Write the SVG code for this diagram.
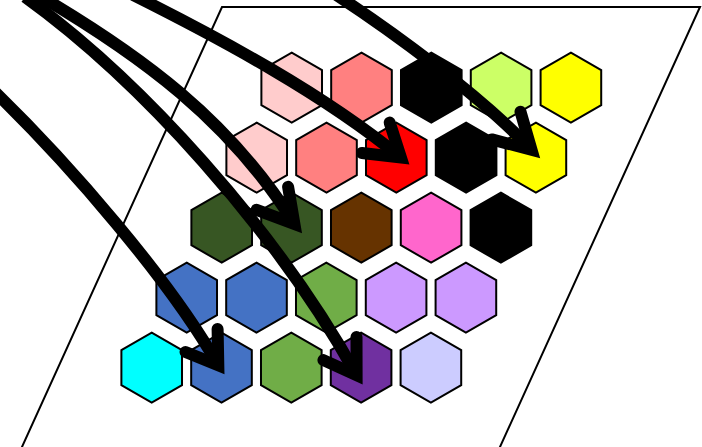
<svg xmlns="http://www.w3.org/2000/svg" xmlns:xlink="http://www.w3.org/1999/xlink" width="702" height="447" viewBox="0 0 702 447">
<style>
.hex{stroke:#000;stroke-width:2;stroke-linejoin:miter}
.frame{fill:#fff;stroke:#000;stroke-width:2}
.shaft{fill:none;stroke:#000;stroke-width:12;stroke-linecap:butt}
.head{fill:none;stroke:#000;stroke-width:12;stroke-linecap:round;stroke-linejoin:miter;stroke-miterlimit:10}
</style>
<defs>
<polygon id="hex" points="0,-35 30.31,-17.5 30.31,17.5 0,35 -30.31,17.5 -30.31,-17.5"/>
</defs>
<rect width="702" height="447" fill="#fff"/>
<g id="plane"><polygon class="frame" points="222,7 700,7 498.6,450 20.6,450"/></g>
<g id="hexes">
<g id="h00"><use href="#hex" class="hex" x="291.7" y="87.7" fill="#FFCCCC"/></g>
<g id="h01"><use href="#hex" class="hex" x="361.5" y="87.7" fill="#FF8080"/></g>
<g id="h02"><use href="#hex" class="hex" x="431.3" y="87.7" fill="#000000"/></g>
<g id="h03"><use href="#hex" class="hex" x="501.1" y="87.7" fill="#CCFF66"/></g>
<g id="h04"><use href="#hex" class="hex" x="570.9" y="87.7" fill="#FFFF00"/></g>
<g id="h10"><use href="#hex" class="hex" x="256.7" y="157.7" fill="#FFCCCC"/></g>
<g id="h11"><use href="#hex" class="hex" x="326.5" y="157.7" fill="#FF8080"/></g>
<g id="h12"><use href="#hex" class="hex" x="396.3" y="157.7" fill="#FF0000"/></g>
<g id="h13"><use href="#hex" class="hex" x="466.1" y="157.7" fill="#000000"/></g>
<g id="h14"><use href="#hex" class="hex" x="535.9" y="157.7" fill="#FFFF00"/></g>
<g id="h20"><use href="#hex" class="hex" x="221.7" y="227.7" fill="#375623"/></g>
<g id="h21"><use href="#hex" class="hex" x="291.5" y="227.7" fill="#375623"/></g>
<g id="h22"><use href="#hex" class="hex" x="361.3" y="227.7" fill="#663300"/></g>
<g id="h23"><use href="#hex" class="hex" x="431.1" y="227.7" fill="#FF66CC"/></g>
<g id="h24"><use href="#hex" class="hex" x="500.9" y="227.7" fill="#000000"/></g>
<g id="h30"><use href="#hex" class="hex" x="186.7" y="297.7" fill="#4472C4"/></g>
<g id="h31"><use href="#hex" class="hex" x="256.5" y="297.7" fill="#4472C4"/></g>
<g id="h32"><use href="#hex" class="hex" x="326.3" y="297.7" fill="#70AD47"/></g>
<g id="h33"><use href="#hex" class="hex" x="396.1" y="297.7" fill="#CC99FF"/></g>
<g id="h34"><use href="#hex" class="hex" x="465.9" y="297.7" fill="#CC99FF"/></g>
<g id="h40"><use href="#hex" class="hex" x="151.7" y="367.7" fill="#00FFFF"/></g>
<g id="h41"><use href="#hex" class="hex" x="221.5" y="367.7" fill="#4472C4"/></g>
<g id="h42"><use href="#hex" class="hex" x="291.3" y="367.7" fill="#70AD47"/></g>
<g id="h43"><use href="#hex" class="hex" x="361.1" y="367.7" fill="#7030A0"/></g>
<g id="h44"><use href="#hex" class="hex" x="430.9" y="367.7" fill="#CCCCFF"/></g>
</g>
<g id="connectors">
<g id="arrowA">
<path class="shaft" d="M133,-5 C222.4,39.7 323.6,94.2 400.9,157.5"/>
<polyline class="head" points="361.9,153 400.9,157.5 389.7,122.6"/>
</g>
<g id="arrowB">
<path class="shaft" d="M335,-6 C390,30 480,95 531.5,149.8"/>
<polyline class="head" points="491.7,139.4 531.5,149.8 520.5,111.7"/>
</g>
<g id="arrowC">
<path class="shaft" d="M40,-4 C140,55 230,120 294.4,223.9"/>
<polyline class="head" points="256.6,209.8 294.4,223.9 288.1,186.8"/>
</g>
<g id="arrowD">
<path class="shaft" d="M-5,92 C70,165 170,280 218.3,365.3"/>
<polyline class="head" points="185.5,352 218.3,365.3 217.6,329"/>
</g>
<g id="arrowE">
<path class="shaft" d="M25,-3 C140,80 275,228 356.6,375.1"/>
<polyline class="head" points="323.4,360.1 356.6,375.1 356.5,337"/>
</g>
</g>
</svg>
